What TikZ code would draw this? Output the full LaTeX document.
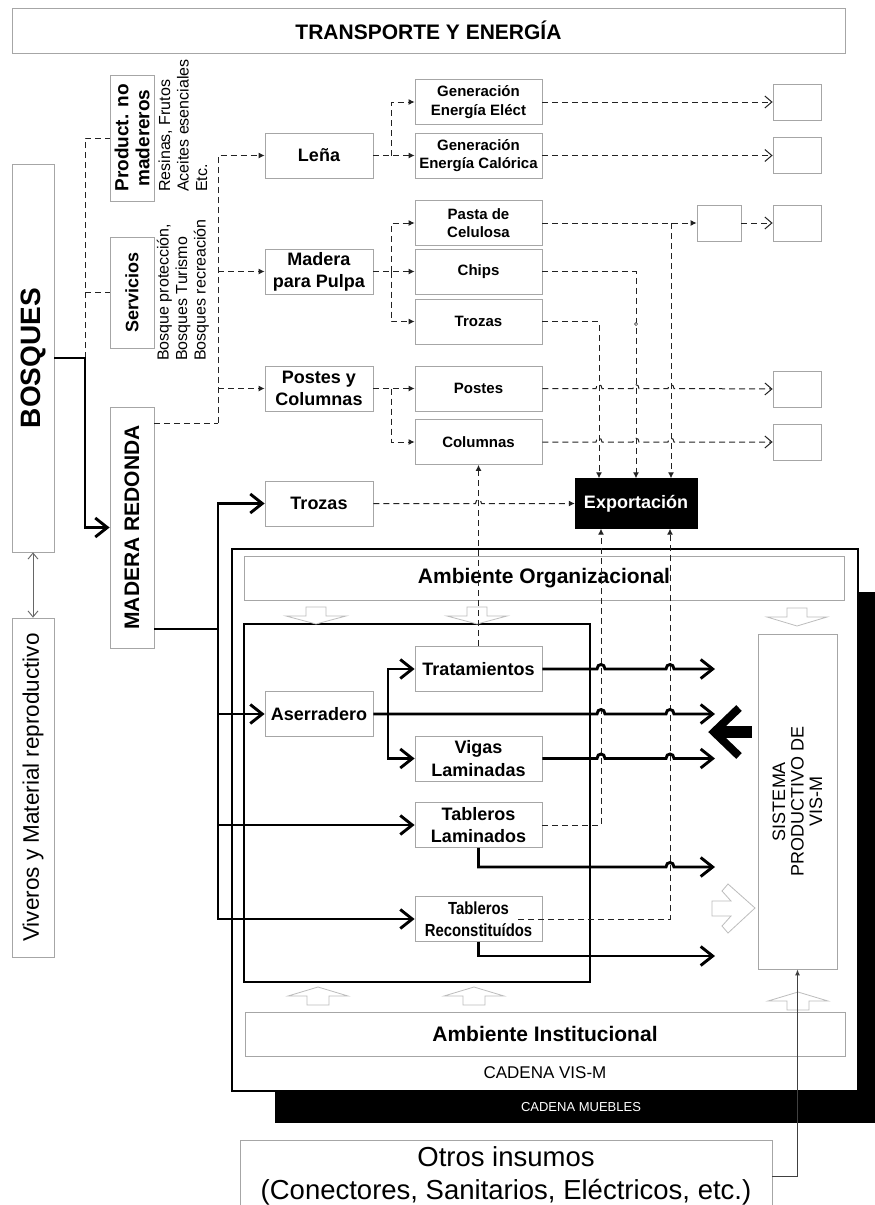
\documentclass[tikz,border=0pt]{standalone}
\usepackage{fontspec}
\setmainfont{Liberation Sans}
\newfontfamily\narrowsans{Liberation Sans}[FakeStretch=0.85]
\usetikzlibrary{arrows.meta}
\newcommand{\fsz}[2]{\fontsize{#1pt}{#2pt}\selectfont}
\definecolor{boxgray}{HTML}{A6A6A6}
\definecolor{hollowgray}{HTML}{BDBDBD}
\definecolor{linegray}{HTML}{222222}

\begin{document}
\begin{tikzpicture}[x=1pt,y=-1pt,
  box/.style={draw=boxgray,line width=0.8pt,fill=white,inner sep=0pt,align=center},
  frame/.style={draw=black,line width=1.5pt,inner sep=0pt},
  dline/.style={draw=linegray,line width=1pt,dash pattern=on 6pt off 4pt},
  ftip/.style={-{Latex[length=6pt,width=6pt]}},
  otip/.style={-{Straight Barb[length=7pt,width=12pt]}},
  tline/.style={draw=black,line width=2.9pt},
  ttip/.style={-{Straight Barb[length=12pt,width=19pt]}},
  gline/.style={draw=black!60,line width=0.9pt},
  hop/.style 2 args={insert path={-- ({#1-4},#2) .. controls ({#1-4},{#2-6}) and ({#1+4},{#2-6}) .. ({#1+4},#2)}},
  shop/.style 2 args={insert path={-- ({#1-3},#2) .. controls ({#1-3},{#2-5}) and ({#1+3},{#2-5}) .. ({#1+3},#2)}},
  hollow/.style={draw=hollowgray,line width=0.8pt,fill=white},
]
\clip (0,0) rectangle (875,1205);
\fill[white] (0,0) rectangle (875,1205);

% ---------- top banner ----------
\node[box,minimum width=833,minimum height=45,font=\bfseries\fsz{21}{24}] (trans) at (428.5,30.5) {TRANSPORTE Y ENERGÍA};

% ---------- left column ----------
\node[box,rotate=90,minimum width=388,minimum height=42,font=\bfseries\fsz{28}{30}] (bosques) at (33,358) {BOSQUES};
\node[box,rotate=90,minimum width=339,minimum height=42,font=\fsz{22.5}{25}] (viveros) at (33,787.5) {Viveros y Material reproductivo};
\node[box,rotate=90,minimum width=126,minimum height=44,font=\bfseries\fsz{19}{21}] (product) at (132,138) {Product. no\\madereros};
\node[box,rotate=90,minimum width=111,minimum height=44,font=\bfseries\fsz{18}{21}] (servicios) at (132,292.5) {Servicios};
\node[box,rotate=90,minimum width=241,minimum height=44,font=\bfseries\fsz{21}{24}] (madera) at (132,527.5) {MADERA REDONDA};
\node[rotate=90,anchor=west,align=left,inner sep=0pt,font=\fsz{16}{18.5}] (prodtxt) at (183,192) {Resinas, Frutos\\Aceites esenciales\\Etc.};
\node[rotate=90,anchor=west,align=left,inner sep=0pt,font=\fsz{16}{18.5}] (servtxt) at (183,361) {Bosque protección,\\Bosques Turismo\\Bosques recreación};

% ---------- CADENA MUEBLES / CADENA VIS-M ----------
\node[fill=black,inner sep=0pt,minimum width=600,minimum height=531] (muebles) at (575,857.5) {};
\node[frame,fill=white,minimum width=626,minimum height=542] (cadena) at (545,820) {};
\node[text=white,font=\fsz{13}{15}] (muebleslbl) at (581,1107) {CADENA MUEBLES};
\node[font=\fsz{17}{20}] (cadenalbl) at (545,1073) {CADENA VIS-M};
\node[box,minimum width=600,minimum height=44,font=\bfseries\fsz{21}{24}] (ambOrg) at (544,578) {Ambiente Organizacional};
\node[box,minimum width=600,minimum height=44,font=\bfseries\fsz{21}{24}] (ambInst) at (545,1034) {Ambiente Institucional};
\node[frame,minimum width=346,minimum height=358] (inner) at (417,803) {};

% hollow block arrows
\foreach \cx/\ty/\hh in {316/607/17, 477/607/17, 797/608/18}{
  \draw[hollow] ({\cx-10},\ty) -- ({\cx+10},\ty) -- ({\cx+10},{\ty+9}) -- ({\cx+30},{\ty+9})
     -- (\cx,{\ty+\hh}) -- ({\cx-30},{\ty+9}) -- ({\cx-10},{\ty+9}) -- cycle;
}
\foreach \cx/\ty in {318/987, 474/987, 798/992}{
  \draw[hollow] (\cx,\ty) -- ({\cx+30},{\ty+9}) -- ({\cx+11},{\ty+9}) -- ({\cx+11},{\ty+18})
     -- ({\cx-11},{\ty+18}) -- ({\cx-11},{\ty+9}) -- ({\cx-30},{\ty+9}) -- cycle;
}
\draw[hollow] (712,901) -- (731,901) -- (722,891) -- (728,884) -- (755,908) -- (728,933)
   -- (722,926) -- (731,916) -- (712,916) -- cycle;

% black arrow towards the chain
\draw[line width=8pt,miter limit=10] (739,708) -- (714,732) -- (739,756);
\fill (720,726) rectangle (752,738);

\node[box,rotate=90,minimum width=335,minimum height=79,font=\fsz{18}{18.5}] (sistema) at (797.5,801.5) {SISTEMA\\PRODUCTIVO DE\\VIS-M};

% ---------- primary products ----------
\begin{scope}[every node/.append style={box,minimum width=108,minimum height=45,font=\bfseries\fsz{18}{22}}]
\node (lena) at (319,155.5) {Leña};
\node (pulpa) at (319,271.5) {Madera\\para Pulpa};
\node (postcol) at (319,388.5) {Postes y\\Columnas};
\node (trozasL) at (319,503.5) {Trozas};
\node (aserr) at (319,714) {Aserradero};
\end{scope}

\begin{scope}[every node/.append style={box,minimum width=127,minimum height=45,font=\bfseries\fsz{15}{18.5}}]
\node (genE) at (478.5,102) {Generación\\Energía Eléct};
\node (genC) at (478.5,155.5) {Generación\\Energía Calórica};
\node (pasta) at (478.5,223) {Pasta de\\Celulosa};
\node (chips) at (478.5,271.5) {Chips};
\node (trozasR) at (478.5,321.5) {Trozas};
\node (postes) at (478.5,388.5) {Postes};
\node (columnas) at (478.5,442) {Columnas};
\end{scope}

\begin{scope}[every node/.append style={box,minimum width=127,minimum height=45,font=\bfseries\fsz{18}{22.5}}]
\node (tratam) at (478.5,669) {Tratamientos};
\node (vigas) at (478.5,758.5) {Vigas\\Laminadas};
\node (tabLam) at (478.5,825) {Tableros\\Laminados};
\node[font=\narrowsans\bfseries\fsz{17.5}{22.5}] (tabRec) at (478.5,919) {Tableros\\Reconstituídos};
\end{scope}

\begin{scope}[every node/.append style={box,minimum width=48,minimum height=36}]
\node (rE) at (797,102) {};
\node (rC) at (797,155.5) {};
\node (rP) at (797,223) {};
\node (rPo) at (797,389) {};
\node (rCo) at (797,442) {};
\node[minimum width=44] (mid) at (719,223) {};
\end{scope}

\node[fill=black,draw=black,inner sep=0pt,minimum width=122,minimum height=50,text=white,font=\bfseries\fsz{18}{22}] (export) at (636,503.5) {Exportación};

\node[box,minimum width=532,minimum height=72,font=\fsz{27.5}{33}] (otros) at (506,1176) {Otros insumos\\(Conectores, Sanitarios, Eléctricos, etc.)};

% ---------- junction points ----------
\coordinate (jB) at (85,358);
\coordinate (jM) at (218,423);
\coordinate (jT) at (218,629);
\coordinate (jL) at (391,155.5);
\coordinate (jP) at (391,271.5);
\coordinate (jC) at (391,388.5);
\coordinate (jPa) at (671,223);
\coordinate (jA) at (388,714);
\coordinate (xa) at (599,0);
\coordinate (xb) at (601,0);
\coordinate (xc) at (670,0);
\coordinate (eT) at (715,669);
\coordinate (eA) at (715,714);
\coordinate (eV) at (715,758.5);
\coordinate (eL) at (715,867);
\coordinate (eR) at (715,956);
\coordinate (rs) at (518,919);

% ---------- connectors: forests ----------
\draw[gline,{Straight Barb[length=6pt,width=10pt]}-{Straight Barb[length=6pt,width=10pt]}] (bosques.west) -- (viveros.east);
\draw[dline] (jB) |- (product.north);
\draw[dline] (jB |- servicios.north) -- (servicios.north);
\draw[tline,ttip] (bosques.south) -- (jB) |- (madera.north);

\draw[dline] (madera.south |- jM) -- (jM);
\draw[dline,ftip] (jM) |- (lena.west);
\draw[dline,ftip] (jM |- pulpa.west) -- (pulpa.west);
\draw[dline,ftip] (jM |- postcol.west) -- (postcol.west);

\draw[dline,ftip] (lena.east) -- (genC.west);
\draw[dline,ftip] (jL) |- (genE.west);
\draw[dline,ftip] (pulpa.east) -- (chips.west);
\draw[dline,ftip] (jP) |- (pasta.west);
\draw[dline,ftip] (jP) |- (trozasR.west);
\draw[dline,ftip] (postcol.east) -- (postes.west);
\draw[dline,ftip] (jC) |- (columnas.west);

\draw[dline,otip] (genE.east) -- (rE.west);
\draw[dline,otip] (genC.east) -- (rC.west);
\draw[dline,ftip] (pasta.east) -- (mid.west);
\draw[dline,otip] (mid.east) -- (rP.west);
\draw[dline,otip] (postes.east) [shop={599}{388.5}] [shop={636}{388.5}] [shop={671}{388.5}] -- (rPo.west);
\draw[dline,otip] (columnas.east) [shop={599}{442}] [shop={636}{442}] [shop={671}{442}] -- (rCo.west);

% towards export
\draw[dline,ftip] (trozasR.east) -| (xa |- export.north);
\draw[dline,ftip] (chips.east) -| (export.north);
\draw[dline,ftip] (jPa) -- (jPa |- export.north);
\draw[linegray,line width=0.5pt,fill=white] (636,324) circle (1.6);
\draw[dline,ftip] (trozasL.east) [shop={478.5}{503.5}] -- (export.west);
\draw[dline,ftip] (tratam.north) -- (columnas.south);
\draw[dline,ftip] (tabLam.east) -| (xb |- export.south);
\draw[dline,ftip] (rs) -| (xc |- export.south);

% ---------- connectors: round wood into the chain ----------
\draw[tline] (madera.south |- jT) -- (jT);
\draw[tline,ttip] (jT) |- (trozasL.west);
\draw[tline,ttip] (jT) |- (aserr.west);
\draw[tline,ttip] (jT) |- (tabLam.west);
\draw[tline,ttip] (jT) |- (tabRec.west);
\draw[tline,ttip] (jA) |- (tratam.west);
\draw[tline,ttip] (jA) |- (vigas.west);
\draw[tline,ttip] (aserr.east) [hop={601}{714}] [hop={670}{714}] -- (eA);
\draw[tline,ttip] (tratam.east) [hop={601}{669}] [hop={670}{669}] -- (eT);
\draw[tline,ttip] (vigas.east) [hop={601}{758.5}] [hop={670}{758.5}] -- (eV);
\draw[tline,ttip] (tabLam.south) -- (tabLam.south |- eL) [hop={670}{867}] -- (eL);
\draw[tline,ttip] (tabRec.south) |- (eR);

% other inputs
\draw[draw=black!75,line width=1pt,-{Latex[length=6pt,width=5pt]}] (otros.east) -| (sistema.west);
\end{tikzpicture}
\end{document}
